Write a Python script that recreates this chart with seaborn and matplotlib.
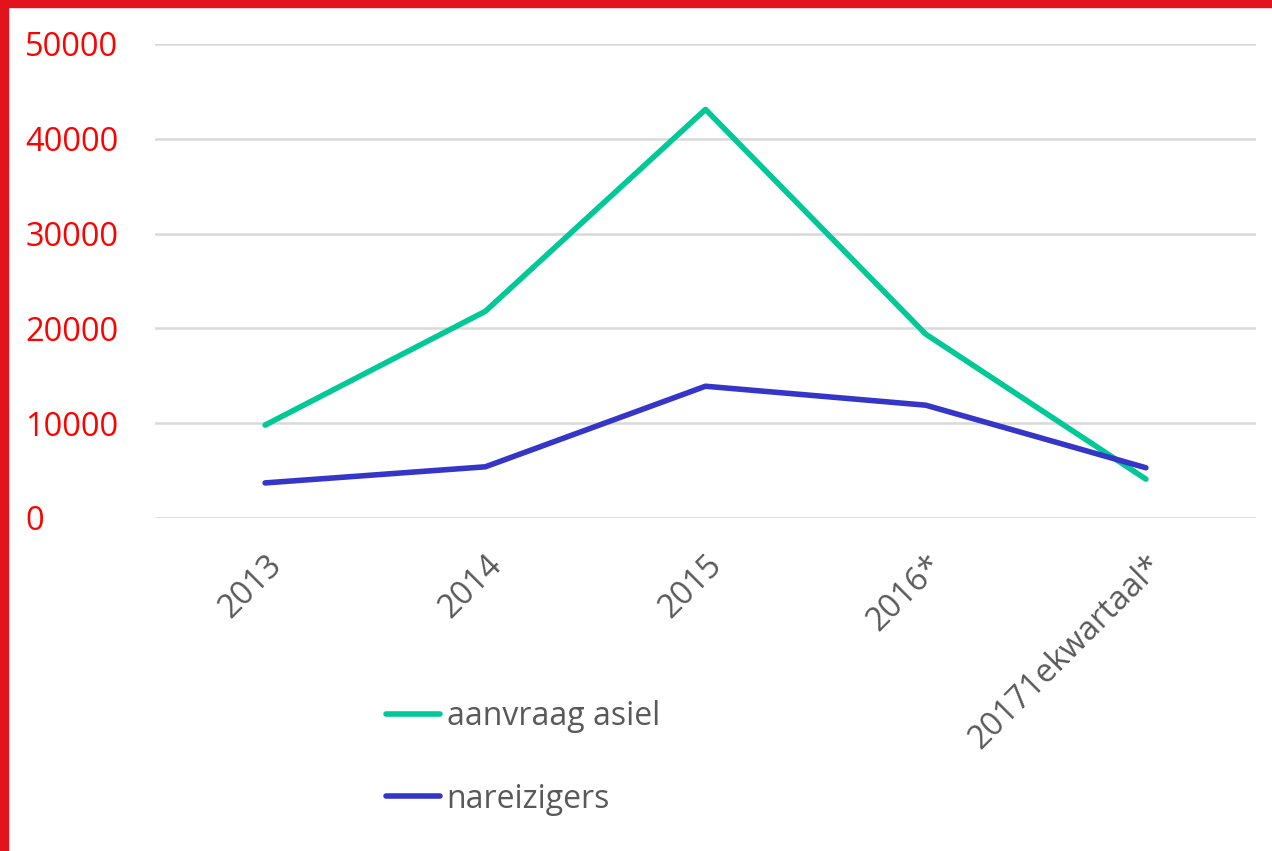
import numpy as np
import pandas as pd
import matplotlib
matplotlib.use('Agg')
from matplotlib import pyplot as plt
from matplotlib.patches import Rectangle
import seaborn as sns

# data
jaren = ['2013', '2014', '2015', '2016*', '20171ekwartaal*']
asiel = [9800, 21800, 43100, 19400, 4100]
nareizigers = [3700, 5400, 13900, 11900, 5300]

df = pd.DataFrame({
    'jaar': jaren * 2,
    'aantal': asiel + nareizigers,
    'reeks': ['aanvraag asiel'] * 5 + ['nareizigers'] * 5,
})

sns.set_style('white')
plt.rcParams['font.family'] = ['Open Sans', 'DejaVu Sans']

fig = plt.figure(figsize=(12.72, 8.51), dpi=100)
ax = fig.add_axes([155 / 1272, 1 - 518 / 851, (1256 - 155) / 1272, (518 - 44) / 851])

kleuren = {'aanvraag asiel': '#00C896', 'nareizigers': '#3535C8'}
sns.lineplot(data=df, x='jaar', y='aantal', hue='reeks', palette=kleuren,
             linewidth=4, ax=ax, sort=False, legend=False)
for ln in ax.lines:
    ln.set_solid_capstyle('round')
    ln.set_solid_joinstyle('round')

ax.set_xlim(-0.5, 4.5)
ax.set_ylim(0, 50000)
ax.set_yticks(np.arange(0, 50001, 10000))
ax.yaxis.grid(True, color='#D9D9D9', linewidth=1.8)
ax.set_axisbelow(True)
for s in ax.spines.values():
    s.set_visible(False)
ax.set_xlabel('')
ax.set_ylabel('')
ax.tick_params(axis='y', labelsize=23.5, labelcolor='#FF0000', length=0, pad=0)
ax.tick_params(axis='x', labelsize=23.5, labelcolor='#595959', length=0, pad=22)
for lab in ax.get_xticklabels():
    lab.set_rotation(45)
    lab.set_ha('right')
    lab.set_rotation_mode('anchor')
for lab in ax.get_yticklabels():
    lab.set_ha('left')
    lab.set_x(-0.118)

# legend at the bottom
handles = [plt.Line2D([], [], color=kleuren[k], linewidth=4, solid_capstyle='round') for k in kleuren]
leg = fig.legend(handles, list(kleuren.keys()), loc='upper left',
                 bbox_to_anchor=(386 / 1272, 1 - 700 / 851), frameon=False,
                 fontsize=23, handlelength=1.7, handletextpad=0.2, labelspacing=1.55,
                 borderaxespad=0, borderpad=0)
for t in leg.get_texts():
    t.set_color('#595959')

# red frame at top and left
fig.patches.append(Rectangle((0, 1 - 7 / 851), 1, 7 / 851, transform=fig.transFigure,
                             color='#E3131E', zorder=10))
fig.patches.append(Rectangle((0, 0), 8 / 1272, 1, transform=fig.transFigure,
                             color='#E3131E', zorder=10))

fig.savefig('out.png', dpi=100)
